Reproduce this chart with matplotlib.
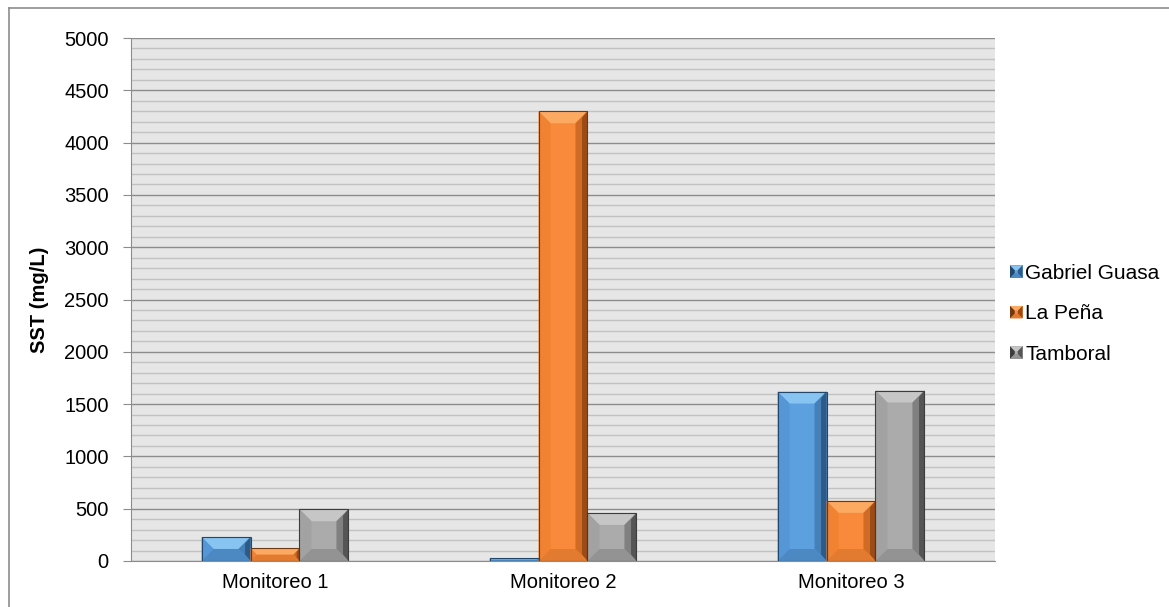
import matplotlib
matplotlib.use("Agg")
import matplotlib.pyplot as plt
import numpy as np
from matplotlib.patches import Polygon, Rectangle
from matplotlib.legend_handler import HandlerBase
from matplotlib.lines import Line2D

plt.rcParams['font.family'] = ['Liberation Sans', 'DejaVu Sans']

categories = ["Monitoreo 1", "Monitoreo 2", "Monitoreo 3"]
series_names = ["Gabriel Guasa", "La Peña", "Tamboral"]
gabriel_guasa = [230, 25, 1620]
la_pena = [120, 4300, 575]
tamboral = [495, 460, 1630]
y_ticks = [0, 500, 1000, 1500, 2000, 2500, 3000, 3500, 4000, 4500, 5000]

# face, top highlight, left, right (outer/inner), bottom, outline
palettes = [
    dict(face="#5ca0e0", top="#88c4f1", left="#5597d6", right="#2d5a86", right2="#4580b8",
         bottom="#4c88c2", edge="#23476b"),
    dict(face="#fa8a3b", top="#fca962", left="#f08232", right="#9c4b16", right2="#cf6b24",
         bottom="#e27a30", edge="#6e3812"),
    dict(face="#ababab", top="#c6c6c6", left="#a2a2a2", right="#555555", right2="#808080",
         bottom="#939393", edge="#3c3c3c"),
]

W, H, DPI = 1169, 607, 100
fig = plt.figure(figsize=(W / DPI, H / DPI), dpi=DPI)
fig.patch.set_facecolor("white")
ax = fig.add_axes([131 / W, 1 - 561 / H, (995 - 131) / W, (561 - 38) / H])
ax.set_facecolor("#e6e6e6")

x = np.arange(len(categories))
bw = 0.17
all_series = [gabriel_guasa, la_pena, tamboral]

ax.set_xlim(-0.5, len(categories) - 0.5)
ax.set_ylim(0, 5000)

# gridlines
ax.set_yticks(y_ticks)
ax.set_yticks(np.arange(0, 5001, 100), minor=True)
ax.grid(which="minor", axis="y", color="#c2c2c2", linewidth=1.0, zorder=0)
ax.grid(which="major", axis="y", color="#8c8c8c", linewidth=1.0, zorder=0)
ax.set_axisbelow(True)

bars_all = []
for i, (vals, pal) in enumerate(zip(all_series, palettes)):
    bars = ax.bar(x + (i - 1) * bw, vals, width=bw, color=pal["face"],
                  edgecolor="none", zorder=3, label=series_names[i])
    bars_all.append((bars, pal))

fig.canvas.draw()
inv = ax.transData.inverted()


def bevel(rect, pal):
    x0, y0 = rect.get_x(), rect.get_y()
    x1, y1 = x0 + rect.get_width(), y0 + rect.get_height()
    (px0, py0), (px1, py1) = ax.transData.transform([(x0, y0), (x1, y1)])
    w, h = px1 - px0, py1 - py0
    b = min(12.0, w / 2.0, h / 2.0)
    ix0, ix1, iy0, iy1 = px0 + b, px1 - b, py0 + b, py1 - b
    mx, my0, my1 = px1 - b * 0.45, py0 + b * 0.55, py1 - b * 0.55
    faces = [
        ([(px0, py1), (px1, py1), (ix1, iy1), (ix0, iy1)], pal["top"]),
        ([(px0, py0), (px0, py1), (ix0, iy1), (ix0, iy0)], pal["left"]),
        ([(px1, py0), (px1, py1), (ix1, iy1), (ix1, iy0)], pal["right2"]),
        ([(px1, py0), (px1, py1), (mx, my1), (mx, my0)], pal["right"]),
        ([(px0, py0), (px1, py0), (ix1, iy0), (ix0, iy0)], pal["bottom"]),
    ]
    for pts, col in faces:
        ax.add_patch(Polygon(inv.transform(pts), closed=True, facecolor=col,
                             edgecolor="none", zorder=4))
    ax.add_patch(Polygon(inv.transform([(px0, py0), (px0, py1), (px1, py1), (px1, py0)]),
                         closed=True, facecolor="none", edgecolor=pal["edge"],
                         linewidth=0.8, zorder=5))


for bars, pal in bars_all:
    for rect in bars:
        bevel(rect, pal)

# axes styling
for side in ("top", "right"):
    ax.spines[side].set_visible(False)
ax.spines["left"].set_color("#8c8c8c")
ax.spines["bottom"].set_color("#8c8c8c")
ax.spines["bottom"].set_zorder(6)
ax.tick_params(axis="y", which="major", length=6, color="#8c8c8c", pad=10,
               labelsize=14.5, labelcolor="black")
ax.tick_params(axis="y", which="minor", length=0)
ax.set_xticks(x)
ax.set_xticklabels(categories)
ax.tick_params(axis="x", length=0, pad=9, labelsize=14.5)
ax.set_ylabel("SST (mg/L)", fontsize=14.5, fontweight="bold", labelpad=11)


class BevelHandler(HandlerBase):
    def create_artists(self, legend, orig_handle, xdescent, ydescent, width,
                       height, fontsize, trans):
        pal = orig_handle._pal
        s = 12.5 * 72.0 / DPI
        x0 = -xdescent
        y0 = -ydescent + (height - s) / 2.0
        x1, y1 = x0 + s, y0 + s
        cx, cy = x0 + s / 2.0, y0 + s / 2.0
        ix0, ix1 = cx - s * 0.12, cx + s * 0.12
        iy0, iy1 = cy - s * 0.12, cy + s * 0.12
        arts = [Rectangle((x0, y0), s, s, facecolor=pal["face"], edgecolor="none", transform=trans)]
        for pts, col in [
            ([(x0, y1), (x1, y1), (ix1, iy1), (ix0, iy1)], pal["top"]),
            ([(x0, y0), (x0, y1), (ix0, iy1), (ix0, iy0)], pal["edge"]),
            ([(x1, y0), (x1, y1), (ix1, iy1), (ix1, iy0)], pal["right"]),
            ([(x0, y0), (x1, y0), (ix1, iy0), (ix0, iy0)], pal["bottom"]),
        ]:
            arts.append(Polygon(pts, closed=True, facecolor=col, edgecolor="none", transform=trans))
        return arts


handles = []
for (bars, pal), name in zip(bars_all, series_names):
    hnd = Rectangle((0, 0), 1, 1)
    hnd._pal = pal
    handles.append(hnd)

leg = fig.legend(handles, series_names, handler_map={Rectangle: BevelHandler()},
                 loc="center left", bbox_to_anchor=(1010 / W, 1 - 314 / H),
                 frameon=False, fontsize=15, handlelength=0.62, handleheight=0.7,
                 handletextpad=0.12, labelspacing=1.03, borderpad=0, borderaxespad=0)

# outer frame of the chart area
fig.add_artist(Line2D([9 / W, 1.0], [1 - 8 / H, 1 - 8 / H], color="#8c8c8c", linewidth=1.2))
fig.add_artist(Line2D([9 / W, 9 / W], [0.0, 1 - 8 / H], color="#8c8c8c", linewidth=1.2))

fig.savefig("out.png", dpi=DPI, facecolor="white")
